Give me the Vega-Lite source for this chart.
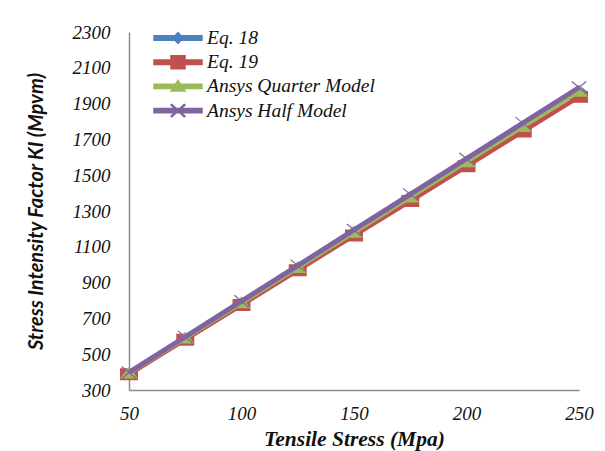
{
  "$schema": "https://vega.github.io/schema/vega-lite/v6.json",
  "width": 450,
  "height": 358,
  "autosize": "none",
  "padding": {"left": 129, "top": 32, "right": 26, "bottom": 61},
  "background": "white",
  "config": {
    "view": {"stroke": null},
    "axis": {"grid": false, "ticks": false, "domainColor": "#8c8c8c", "domainWidth": 1.5, "labelColor": "#111111", "titleColor": "#111111"}
  },
  "data": {"values": [
    {"x": 50, "series": "Eq. 18", "y": 395}, {"x": 75, "series": "Eq. 18", "y": 592}, {"x": 100, "series": "Eq. 18", "y": 790},
    {"x": 125, "series": "Eq. 18", "y": 987}, {"x": 150, "series": "Eq. 18", "y": 1185}, {"x": 175, "series": "Eq. 18", "y": 1382},
    {"x": 200, "series": "Eq. 18", "y": 1580}, {"x": 225, "series": "Eq. 18", "y": 1777}, {"x": 250, "series": "Eq. 18", "y": 1975},
    {"x": 50, "series": "Eq. 19", "y": 388}, {"x": 75, "series": "Eq. 19", "y": 581}, {"x": 100, "series": "Eq. 19", "y": 775},
    {"x": 125, "series": "Eq. 19", "y": 969}, {"x": 150, "series": "Eq. 19", "y": 1163}, {"x": 175, "series": "Eq. 19", "y": 1356},
    {"x": 200, "series": "Eq. 19", "y": 1550}, {"x": 225, "series": "Eq. 19", "y": 1744}, {"x": 250, "series": "Eq. 19", "y": 1938},
    {"x": 50, "series": "Ansys Quarter Model", "y": 394}, {"x": 75, "series": "Ansys Quarter Model", "y": 590}, {"x": 100, "series": "Ansys Quarter Model", "y": 787},
    {"x": 125, "series": "Ansys Quarter Model", "y": 984}, {"x": 150, "series": "Ansys Quarter Model", "y": 1181}, {"x": 175, "series": "Ansys Quarter Model", "y": 1378},
    {"x": 200, "series": "Ansys Quarter Model", "y": 1575}, {"x": 225, "series": "Ansys Quarter Model", "y": 1772}, {"x": 250, "series": "Ansys Quarter Model", "y": 1969},
    {"x": 50, "series": "Ansys Half Model", "y": 398}, {"x": 75, "series": "Ansys Half Model", "y": 597}, {"x": 100, "series": "Ansys Half Model", "y": 796},
    {"x": 125, "series": "Ansys Half Model", "y": 995}, {"x": 150, "series": "Ansys Half Model", "y": 1194}, {"x": 175, "series": "Ansys Half Model", "y": 1393},
    {"x": 200, "series": "Ansys Half Model", "y": 1592}, {"x": 225, "series": "Ansys Half Model", "y": 1791}, {"x": 250, "series": "Ansys Half Model", "y": 1990}
  ]},
  "encoding": {
    "x": {"field": "x", "type": "quantitative",
      "scale": {"domain": [50, 250], "nice": false, "zero": false},
      "axis": {"values": [50, 100, 150, 200, 250], "title": "Tensile Stress (Mpa)", "labelFont": "Liberation Serif", "labelFontStyle": "italic", "labelFontSize": 19, "labelPadding": 14, "labelFlush": false,
        "titleFont": "Liberation Serif", "titleFontStyle": "italic", "titleFontWeight": "bold", "titleFontSize": 21.5, "titlePadding": 5}},
    "y": {"field": "y", "type": "quantitative",
      "scale": {"domain": [300, 2300], "nice": false, "zero": false},
      "axis": {"values": [300, 500, 700, 900, 1100, 1300, 1500, 1700, 1900, 2100, 2300], "format": "d", "title": "Stress Intensity Factor KI (Mpvm)",
        "labelFont": "Liberation Serif", "labelFontStyle": "italic", "labelFontSize": 19, "labelPadding": 19,
        "titleFont": "Lato", "titleFontStyle": "italic", "titleFontWeight": "bold", "titleFontSize": 20, "titlePadding": 26}},
    "color": {"field": "series", "type": "nominal",
      "scale": {"domain": ["Eq. 18", "Eq. 19", "Ansys Quarter Model", "Ansys Half Model"], "range": ["#4f81bd", "#c0504d", "#9bbb59", "#8064a2"]},
      "legend": {"title": null, "orient": "none", "legendX": 38, "legendY": -5, "padding": 0, "symbolSize": 400, "rowPadding": 3.2, "labelOffset": 18, "labelLimit": 400,
        "labelFont": "Liberation Serif", "labelFontStyle": "italic", "labelFontSize": 19.5, "labelColor": "#111111",
        "encode": {"symbols": {
          "update": {
            "shape": {"signal": "datum.value === 'Eq. 18' ? 'M-2.4,-0.22H2.4V0.22H-2.4Z M0,-0.55L0.5,0L0,0.55L-0.5,0Z' : datum.value === 'Eq. 19' ? 'M-2.4,-0.22H2.4V0.22H-2.4Z M-0.7,-0.65H0.7V0.65H-0.7Z' : datum.value === 'Ansys Quarter Model' ? 'M-2.4,-0.22H2.4V0.22H-2.4Z M0,-0.6L0.7,0.45H-0.7Z' : 'M-2.4,-0.22H2.4V0.22H-2.4Z M-0.7,-0.56L-0.62,-0.62L0.7,0.56L0.62,0.62Z M0.62,-0.62L0.7,-0.56L-0.62,0.62L-0.7,0.56Z'"},
            "fill": {"signal": "scale('color', datum.value)"},
            "stroke": {"value": "transparent"},
            "opacity": {"value": 1},
            "fillOpacity": {"value": 1}
          },
          "shape": {"value": {"signal": "datum.value === 'Eq. 18' ? 'M-2.4,-0.22H2.4V0.22H-2.4Z M0,-0.55L0.5,0L0,0.55L-0.5,0Z' : datum.value === 'Eq. 19' ? 'M-2.4,-0.22H2.4V0.22H-2.4Z M-0.7,-0.65H0.7V0.65H-0.7Z' : datum.value === 'Ansys Quarter Model' ? 'M-2.4,-0.22H2.4V0.22H-2.4Z M0,-0.6L0.7,0.45H-0.7Z' : 'M-2.4,-0.22H2.4V0.22H-2.4Z M-0.7,-0.56L-0.62,-0.62L0.7,0.56L0.62,0.62Z M0.62,-0.62L0.7,-0.56L-0.62,0.62L-0.7,0.56Z'"}},
          "fill": {"value": {"signal": "scale('color', datum.value)"}},
          "stroke": {"value": "transparent"},
          "opacity": {"value": 1},
          "fillOpacity": {"value": 1}
        }}}}
  },
  "layer": [
    {"transform": [{"filter": "datum.series === 'Eq. 18'"}],
     "layer": [
       {"mark": {"type": "line", "strokeWidth": 4.5}},
       {"mark": {"type": "point", "shape": "M0,-1L1.3,0L0,1L-1.3,0Z", "filled": true, "size": 110, "opacity": 1}}
     ]},
    {"transform": [{"filter": "datum.series === 'Eq. 19'"}],
     "layer": [
       {"mark": {"type": "line", "strokeWidth": 4.5}},
       {"mark": {"type": "point", "shape": "M-1.5,-1H1.5V1H-1.5Z", "filled": true, "size": 144, "opacity": 1}}
     ]},
    {"transform": [{"filter": "datum.series === 'Ansys Quarter Model'"}],
     "layer": [
       {"mark": {"type": "line", "strokeWidth": 4.5}},
       {"mark": {"type": "point", "shape": "M0,-1.1L1.5,0.9H-1.5Z", "filled": true, "size": 144, "opacity": 1}}
     ]},
    {"transform": [{"filter": "datum.series === 'Ansys Half Model'"}],
     "layer": [
       {"mark": {"type": "line", "strokeWidth": 5}},
       {"mark": {"type": "point", "shape": "M-1.2,-1L1.2,1M1.2,-1L-1.2,1", "filled": false, "size": 144, "strokeWidth": 1.2, "opacity": 1}}
     ]}
  ]
}
